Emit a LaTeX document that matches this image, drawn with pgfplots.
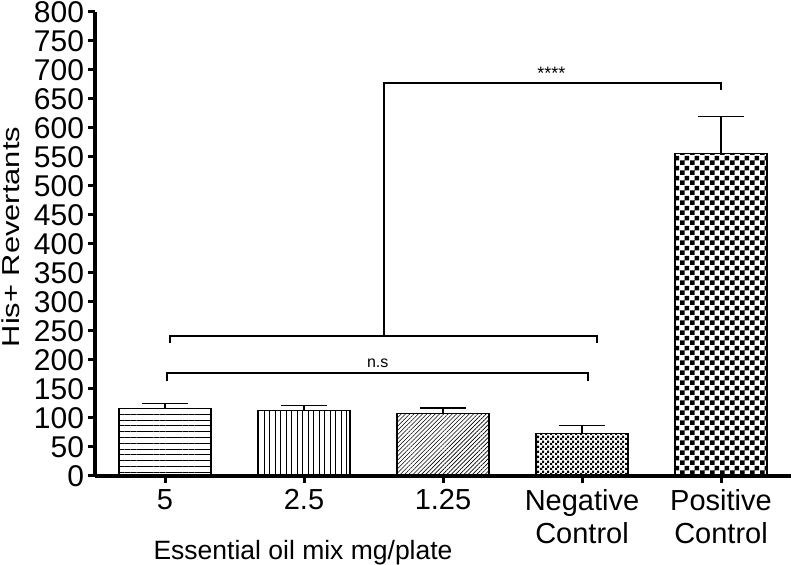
\documentclass[border=0pt]{standalone}
\usepackage{fontspec}
\setmainfont{Liberation Sans}
\usepackage{graphicx}
\usepackage{pgfplots}
\pgfplotsset{compat=1.18}
\usetikzlibrary{patterns,patterns.meta}

% checkerboard fills for the two control bars
\pgfdeclarepatternformonly{bigcheck}{\pgfpointorigin}{\pgfqpoint{10pt}{10pt}}{\pgfqpoint{10pt}{10pt}}{%
  \pgfpathrectangle{\pgfpointorigin}{\pgfqpoint{5pt}{5pt}}%
  \pgfpathrectangle{\pgfqpoint{5pt}{5pt}}{\pgfqpoint{5pt}{5pt}}%
  \pgfusepath{fill}}
\pgfdeclarepatternformonly{smallcheck}{\pgfpointorigin}{\pgfqpoint{5pt}{5pt}}{\pgfqpoint{5pt}{5pt}}{%
  \pgfpathrectangle{\pgfpointorigin}{\pgfqpoint{2.5pt}{2.5pt}}%
  \pgfpathrectangle{\pgfqpoint{2.5pt}{2.5pt}}{\pgfqpoint{2.5pt}{2.5pt}}%
  \pgfusepath{fill}}

\begin{document}
\begin{tikzpicture}
\begin{axis}[
  scale only axis,
  width=695pt, height=464pt,
  xmin=-0.5, xmax=4.5,
  ymin=0, ymax=800,
  axis lines=left,
  axis line style={-, line width=4pt, black},
  clip=false,
  xtick={0,1,2,3,4},
  xticklabels={5, 2.5, 1.25, {Negative\\Control}, {Positive\\Control}},
  ytick={0,50,...,800},
  tick align=outside,
  major tick length=7pt,
  tick style={line width=3pt, black},
  /pgf/number format/assume math mode=true,
  y tick label style={font=\fontsize{30}{30}\selectfont, xshift=-1pt},
  x tick label style={font=\fontsize{29}{33}\selectfont, align=center, yshift=-3pt},
  xlabel={Essential oil mix mg/plate},
  xlabel style={at={(axis description cs:0.2986,0)}, anchor=base, yshift=-84pt,
    font=\fontsize{26.5}{26.5}\selectfont},
  ylabel={\scalebox{1.26}[1]{His+ Revertants}},
  ylabel style={at={(axis description cs:-0.1223,0.515)}, anchor=center,
    font=\fontsize{24.5}{24.5}\selectfont},
  every axis plot/.append style={ybar, bar width=92pt, bar shift=0pt, draw=black, line width=1.4pt,
    error bars/y dir=plus, error bars/y explicit,
    error bars/error bar style={line width=1.3pt, black},
    error bars/error mark options={rotate=90, mark size=23pt, line width=1.3pt, black}},
]
\addplot[pattern={Lines[angle=0, distance=5.8pt, line width=0.7pt]}, pattern color=black]
  coordinates {(0,116) +- (0,9)};
\addplot[pattern={Lines[angle=90, distance=5.5pt, line width=0.7pt]}, pattern color=black]
  coordinates {(1,113) +- (0,9)};
\addplot[pattern={Lines[angle=45, distance=3pt, line width=0.6pt]}, pattern color=black]
  coordinates {(2,108) +- (0,9)};
\addplot[pattern=smallcheck, pattern color=black]
  coordinates {(3,73) +- (0,14)};
\addplot[pattern=bigcheck, pattern color=black]
  coordinates {(4,556) +- (0,64)};

% significance brackets
\draw[line width=1.5pt] (axis cs:0.014,164) -- (axis cs:0.014,178) -- (axis cs:3.044,178) -- (axis cs:3.044,164);
\draw[line width=1.5pt] (axis cs:0.036,229) -- (axis cs:0.036,241) -- (axis cs:3.108,241) -- (axis cs:3.108,229);
\draw[line width=1.5pt] (axis cs:1.574,241) -- (axis cs:1.574,678) -- (axis cs:4.0,678) -- (axis cs:4.0,666);
\node[font=\fontsize{16}{16}\selectfont] at (axis cs:1.53,195) {n.s};
\node[font=\fontsize{18}{18}\selectfont, anchor=base] at (axis cs:2.78,683) {****};
\end{axis}
\pgfresetboundingbox
\path[use as bounding box] ([xshift=-95.5pt,yshift=-89pt]current axis.south west)
  rectangle ([xshift=3.5pt,yshift=12pt]current axis.north east);
\end{tikzpicture}
\end{document}
